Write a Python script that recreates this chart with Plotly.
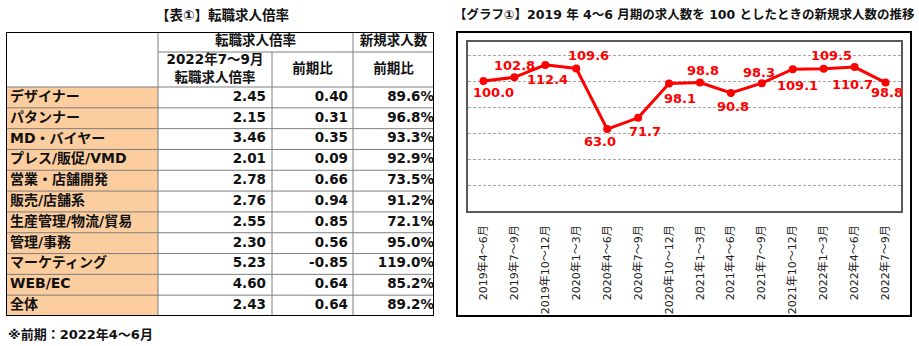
import plotly.graph_objects as go

# ---------------- data ----------------
occupations = ["デザイナー", "パタンナー", "MD・バイヤー", "プレス/販促/VMD", "営業・店舗開発",
               "販売/店舗系", "生産管理/物流/貿易", "管理/事務", "マーケティング", "WEB/EC", "全体"]
ratio_2022q3 = [2.45, 2.15, 3.46, 2.01, 2.78, 2.76, 2.55, 2.30, 5.23, 4.60, 2.43]
ratio_diff = [0.40, 0.31, 0.35, 0.09, 0.66, 0.94, 0.85, 0.56, -0.85, 0.64, 0.64]
new_jobs_qoq = [89.6, 96.8, 93.3, 92.9, 73.5, 91.2, 72.1, 95.0, 119.0, 85.2, 89.2]

periods = ["2019年4～6月", "2019年7～9月", "2019年10～12月", "2020年1～3月", "2020年4～6月",
           "2020年7～9月", "2020年10～12月", "2021年1～3月", "2021年4～6月", "2021年7～9月",
           "2021年10～12月", "2022年1～3月", "2022年4～6月", "2022年7～9月"]
index_values = [100.0, 102.8, 112.4, 109.6, 63.0, 71.7, 98.1, 98.8, 90.8, 98.3, 109.1, 109.5, 110.7, 98.8]

# ---------------- styling ----------------
W, H = 919, 346
FONT = "DejaVu Sans, Noto Sans CJK JP"
RED = "#FF0000"
PEACH = "#FCCD9E"
INK = "#111111"
# data-label placement (pixel offsets from each point: + right / + up)
label_dx = [10, 0, 2, 12, -7, 7, 11, 3, 2, -3, 5, 8, -2, 1]
label_dy = [-11, 12, -15, 13, -12, -14, -15, 12, -14, 11, -16, 13, -17, -10]


def px_x(v):
    return v / W


def px_y(v):
    return 1 - v / H


fig = go.Figure()

# ---------------- line chart ----------------
fig.add_trace(go.Scatter(
    x=periods, y=index_values, mode="lines+markers",
    line=dict(color=RED, width=3), marker=dict(size=8, color=RED),
    cliponaxis=False, hoverinfo="skip", showlegend=False,
    xaxis="x", yaxis="y",
))

annotations = []
for p, v, dx, dy in zip(periods, index_values, label_dx, label_dy):
    annotations.append(dict(
        text=f"{v:.1f}", x=p, y=v, xref="x", yref="y", showarrow=False,
        xanchor="center", yanchor="middle", xshift=dx, yshift=dy,
        font=dict(family=FONT, size=13, color=RED, weight="bold")))

# ---------------- table ----------------
TW, TH = 428, 284            # table extent in its own axis units
col_edges = [0, 152, 266, 347, 428]
head1, head2 = 20, 55        # header row boundaries
n = len(occupations)
row_h = (TH - head2) / n
row_mid = [head2 + (i + 0.5) * row_h for i in range(n)]

shapes = []
# label column background
shapes.append(dict(type="rect", xref="x2", yref="y2", x0=0, x1=col_edges[1], y0=head2, y1=TH,
                   fillcolor=PEACH, line=dict(width=0), layer="below"))
grid_line = dict(color="#7F7F7F", width=1)
for i in range(1, n):
    y = head2 + i * row_h
    shapes.append(dict(type="line", xref="x2", yref="y2", x0=0, x1=TW, y0=y, y1=y, line=grid_line))
shapes.append(dict(type="line", xref="x2", yref="y2", x0=0, x1=TW, y0=head2, y1=head2, line=grid_line))
shapes.append(dict(type="line", xref="x2", yref="y2", x0=col_edges[1], x1=TW, y0=head1, y1=head1, line=grid_line))
shapes.append(dict(type="line", xref="x2", yref="y2", x0=col_edges[1], x1=col_edges[1], y0=0, y1=TH, line=grid_line))
shapes.append(dict(type="line", xref="x2", yref="y2", x0=col_edges[2], x1=col_edges[2], y0=head1, y1=TH, line=grid_line))
shapes.append(dict(type="line", xref="x2", yref="y2", x0=col_edges[3], x1=col_edges[3], y0=0, y1=TH, line=grid_line))
shapes.append(dict(type="rect", xref="x2", yref="y2", x0=0, x1=TW, y0=0, y1=TH,
                   line=dict(color="#000000", width=2)))

# chart frame
shapes.append(dict(type="rect", xref="paper", yref="paper",
                   x0=px_x(457), x1=px_x(911), y0=px_y(316), y1=px_y(32),
                   line=dict(color="#000000", width=2)))

cell_font = dict(family=FONT, size=13.5, color=INK, weight="bold")

fig.add_trace(go.Scatter(
    x=[4] * n, y=row_mid, mode="text", text=occupations, textposition="middle right",
    textfont=dict(family=FONT, size=14, color=INK, weight="bold"),
    cliponaxis=False, hoverinfo="skip", showlegend=False, xaxis="x2", yaxis="y2"))
fig.add_trace(go.Scatter(
    x=[col_edges[2] - 6] * n, y=row_mid, mode="text", text=[f"{v:.2f}" for v in ratio_2022q3],
    textposition="middle left", textfont=cell_font,
    cliponaxis=False, hoverinfo="skip", showlegend=False, xaxis="x2", yaxis="y2"))
fig.add_trace(go.Scatter(
    x=[col_edges[3] - 5] * n, y=row_mid, mode="text", text=[f"{v:.2f}" for v in ratio_diff],
    textposition="middle left", textfont=cell_font,
    cliponaxis=False, hoverinfo="skip", showlegend=False, xaxis="x2", yaxis="y2"))
fig.add_trace(go.Scatter(
    x=[col_edges[4]] * n, y=row_mid, mode="text", text=[f"{v:.1f}%" for v in new_jobs_qoq],
    textposition="middle left", textfont=cell_font,
    cliponaxis=False, hoverinfo="skip", showlegend=False, xaxis="x2", yaxis="y2"))

header_text = ["転職求人倍率", "新規求人数", "2022年7～9月<br>転職求人倍率", "前期比", "前期比"]
header_x = [(col_edges[1] + col_edges[3]) / 2, (col_edges[3] + col_edges[4]) / 2,
            (col_edges[1] + col_edges[2]) / 2, (col_edges[2] + col_edges[3]) / 2,
            (col_edges[3] + col_edges[4]) / 2]
header_y = [head1 / 2, head1 / 2, (head1 + head2) / 2, (head1 + head2) / 2, (head1 + head2) / 2]
fig.add_trace(go.Scatter(
    x=header_x, y=header_y, mode="text", text=header_text, textposition="middle center",
    textfont=dict(family=FONT, size=13.5, color=INK, weight="bold"),
    cliponaxis=False, hoverinfo="skip", showlegend=False, xaxis="x2", yaxis="y2"))

# ---------------- titles / notes ----------------
annotations += [
    dict(text="【表①】転職求人倍率", x=px_x(222), y=px_y(15), xref="paper", yref="paper",
         showarrow=False, xanchor="center", yanchor="middle",
         font=dict(family=FONT, size=13.5, color=INK, weight="bold")),
    dict(text="【グラフ①】2019 年 4～6 月期の求人数を 100 としたときの新規求人数の推移",
         x=px_x(684), y=px_y(15), xref="paper", yref="paper",
         showarrow=False, xanchor="center", yanchor="middle",
         font=dict(family=FONT, size=12.5, color=INK, weight="bold")),
    dict(text="※前期：2022年4～6月", x=px_x(6), y=px_y(334), xref="paper", yref="paper",
         showarrow=False, xanchor="left", yanchor="middle",
         font=dict(family=FONT, size=13, color=INK, weight="bold")),
]

fig.update_layout(
    width=W, height=H, margin=dict(l=0, r=0, t=0, b=0),
    paper_bgcolor="white", plot_bgcolor="white",
    showlegend=False, shapes=shapes, annotations=annotations,
    xaxis=dict(domain=[px_x(468), px_x(901)], anchor="y", type="category", range=[-0.5, 13.5],
               tickangle=-90, showgrid=False, zeroline=False, ticks="", ticklabelstandoff=8,
               showline=True, mirror=True, linecolor="#595959", linewidth=1.5,
               tickfont=dict(family=FONT, size=11, color="#222222")),
    yaxis=dict(domain=[px_y(211), px_y(42)], anchor="x", range=[0, 130], dtick=20,
               showticklabels=False, ticks="", zeroline=False,
               showgrid=True, gridcolor="#A6A6A6", griddash="3px,2px", gridwidth=1,
               showline=True, mirror=True, linecolor="#595959", linewidth=1.5),
    xaxis2=dict(domain=[px_x(6), px_x(434)], anchor="y2", range=[0, TW], visible=False),
    yaxis2=dict(domain=[px_y(316), px_y(32)], anchor="x2", range=[TH, 0], visible=False),
)

fig.write_html("out.html")
